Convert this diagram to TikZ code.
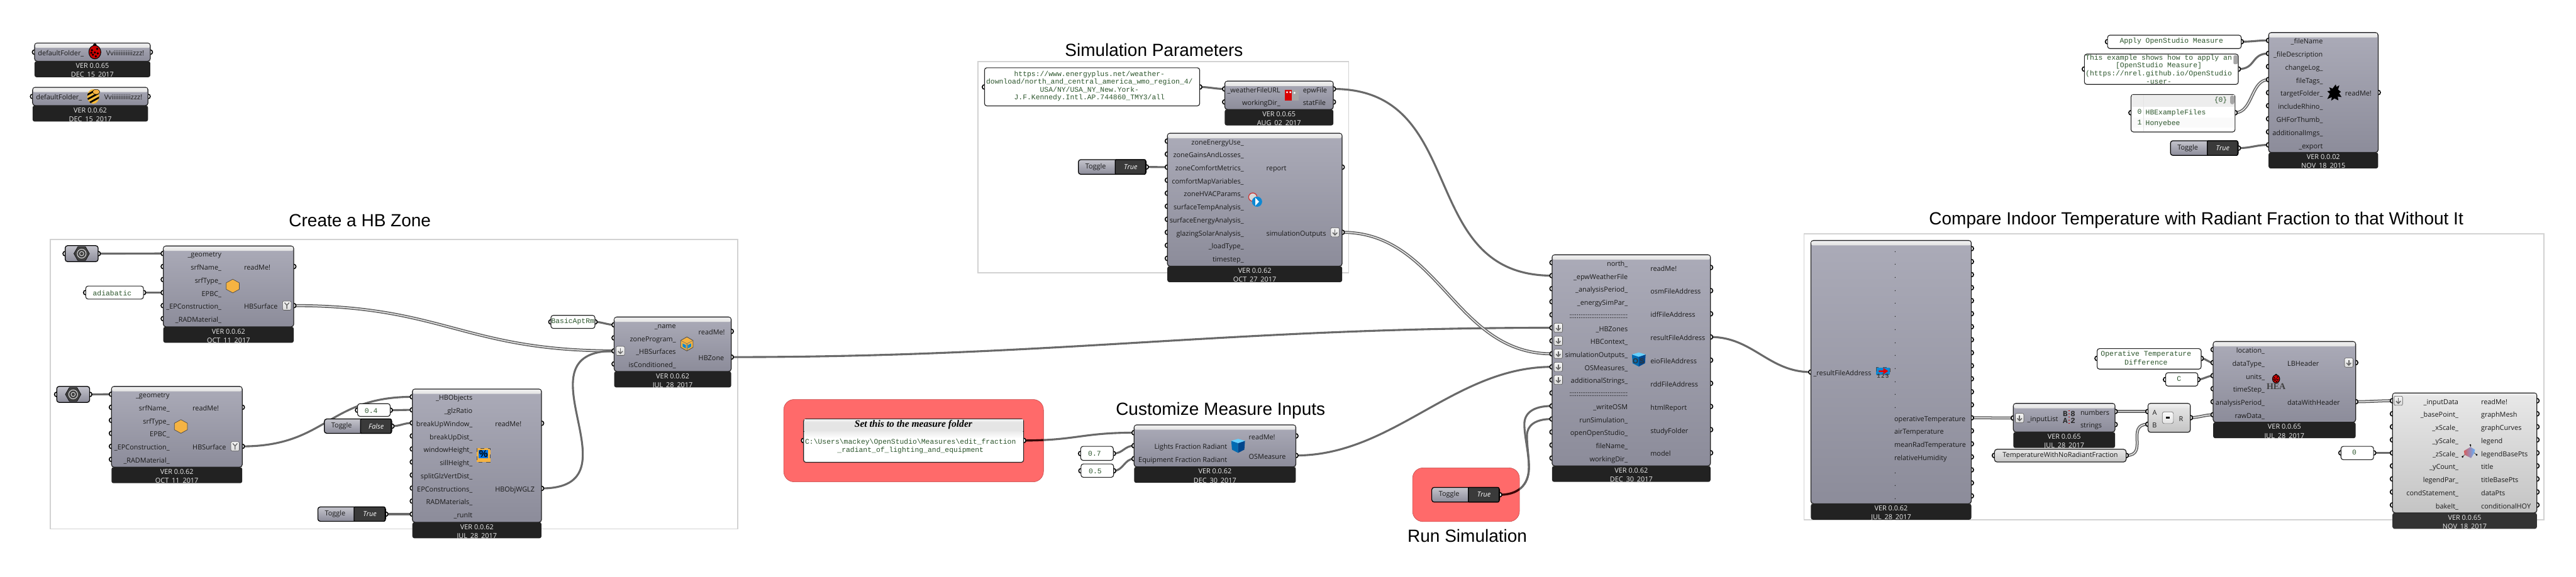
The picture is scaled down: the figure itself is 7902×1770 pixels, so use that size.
\documentclass[tikz,border=0pt]{standalone}
\usepackage{fontspec}
\setmainfont{Open Sans}
\newfontfamily\mono{Liberation Mono}
\newfontfamily\arial{Liberation Sans}
\newfontfamily\tms{Liberation Serif}
\usetikzlibrary{backgrounds}
\catcode`\_=12
\newcommand\fs[1]{\fontsize{\fpeval{#1*0.25}pt}{\fpeval{#1*0.30}pt}\selectfont}
\definecolor{wirec}{HTML}{696969}
\definecolor{foota}{HTML}{222222}
\definecolor{footb}{HTML}{333333}
\definecolor{grpc}{HTML}{D2D2D2}
\definecolor{redg}{HTML}{FF6A6A}
\definecolor{greenT}{HTML}{2C552C}
\definecolor{hbo}{HTML}{F5B342}
\pgfdeclarelayer{grp}\pgfdeclarelayer{wire}\pgfdeclarelayer{port}
\pgfsetlayers{grp,wire,port,main}
\tikzset{
  wire/.style={draw=wirec,line width=1.5pt,line cap=round},
  dwire/.style={draw=wirec,line width=0.85pt,double=white,double distance=0.6pt},
  portc/.style={draw=black,fill=white,line width=0.75pt},
  gcomp/.style={draw=foota,line width=0.6pt,rounded corners=2pt,top color=gtop,bottom color=gbot},
  lcomp/.style={draw=foota,line width=0.6pt,rounded corners=2pt,top color=ltop,bottom color=lbot},
  footg/.style={fill=foota,rounded corners=1.5pt},
  footl/.style={fill=footb,rounded corners=1.5pt},
  lbl/.style={inner sep=0pt,font=\fs{21},text=black!90},
  ftx/.style={inner sep=0pt,font=\fs{21},text=white!93!black},
  ttl/.style={inner sep=0pt,font=\arial\fs{54},text=black},
  mtx/.style={inner sep=0pt,font=\mono\fs{22},text=greenT},
  panelb/.style={draw=foota,line width=0.55pt,rounded corners=1.8pt,fill=white},
  grpbox/.style={draw=grpc,line width=0.75pt,fill=white},
  redbox/.style={draw=red!50!gray,line width=0.25pt,fill=redg,rounded corners=8pt},
  togb/.style={draw=black,line width=0.6pt,rounded corners=1.8pt,top color=gtopl,bottom color=gbot},
  togk/.style={draw=black,line width=0.6pt,fill=btnd,rounded corners=0.6pt},
}
\definecolor{gtop}{HTML}{ABABB8}
\definecolor{gbot}{HTML}{8C8C9A}
\definecolor{gtopl}{HTML}{C4C4CC}
\definecolor{ltop}{HTML}{E8E8E8}
\definecolor{lbot}{HTML}{C4C4C4}
\definecolor{btnd}{HTML}{3A3A3A}
\newcommand\bnode[7]{\node[#2,inner sep=0pt,outer sep=0pt,minimum width={(#5-#3)*0.25pt},minimum height={(#6-#4)*0.25pt}] (#1) at ({(#3+#5)/2},{(#4+#6)/2}) {#7};}
\newcommand\compg[7]{\compbase{gcomp}{footg}{#1}{#2}{#3}{#4}{#5}{#6}{#7}}
\newcommand\compl[7]{\compbase{lcomp}{footl}{#1}{#2}{#3}{#4}{#5}{#6}{#7}}
\newcommand\compbase[9]{%
  \def\cname{#3}\pgfmathsetmacro\cxa{#4}\pgfmathsetmacro\cya{#5}\pgfmathsetmacro\cxb{#6}\pgfmathsetmacro\cyb{#7}%
  \bnode{#3-f}{#2}{\cxa+11}{\cyb-10}{\cxb-11}{\cyb+59}{}%
  \bnode{#3}{#1}{\cxa}{\cya}{\cxb}{\cyb}{}%
  \shade[top color=white!88!gray,bottom color=white!78!gray,rounded corners=1pt] (\cxa+2,\cya+2) rectangle (\cxb-2,\cya+15);
  \node[ftx] (#3-v) at ({(\cxa+\cxb)/2},\cyb+14) {#8};
  \node[ftx] (#3-d) at ({(\cxa+\cxb)/2},\cyb+43) {#9};
}
\newcommand\pdot[1]{\begin{pgfonlayer}{port}\draw[portc] (#1) circle (1.75pt);\end{pgfonlayer}}
\newcommand\ins[6]{\foreach \lab [count=\c] in {#6}{\pgfmathsetmacro\yy{#4+(\c-1)*#5}\coordinate (#1-i\c) at (#2,\yy);\pdot{#2,\yy}\node[lbl,anchor=mid east] (#1-il\c) at (#3,\yy) {\lab};}}
\newcommand\outs[6]{\foreach \lab [count=\c] in {#6}{\pgfmathsetmacro\yy{#4+(\c-1)*#5}\coordinate (#1-o\c) at (#2,\yy);\pdot{#2,\yy}\node[lbl,anchor=mid west] (#1-ol\c) at (#3,\yy) {\lab};}}
\newcommand\panel[6]{\coordinate (#1-i1) at (#2,#6);\coordinate (#1-o1) at (#4,#6);\pdot{#2,#6}\pdot{#4,#6}\bnode{#1}{panelb}{#2}{#3}{#4}{#5}{}}
\newcommand\ptxt[4]{\node[mtx] (#1) at (#2,#3) {#4};}
\newcommand\toggle[7]{\pgfmathsetmacro\ty{(#3+#5)/2}\coordinate (#1-o1) at (#4,\ty);\pdot{#4,\ty}%
  \bnode{#1}{togb}{#2}{#3}{#4}{#5}{}%
  \bnode{#1-k}{togk}{#6}{#3+3}{#4-2}{#5-3}{}%
  \node[lbl] (#1-l) at (#2+53,\ty) {Toggle};
  \node[inner sep=0pt,font=\fs{21}\itshape,text=white] (#1-s) at ({(#6+#4)/2},\ty) {#7};}
\newcommand\paramhex[5]{\pgfmathsetmacro\ty{(#3+#5)/2}\coordinate (#1-i1) at (#2,\ty);\coordinate (#1-o1) at (#4,\ty);\pdot{#2,\ty}\pdot{#4,\ty}%
  \bnode{#1}{togb}{#2}{#3}{#4}{#5}{}%
  \begin{scope}[shift={({(#2+#4)/2},\ty)}]
   \fill[black!75,draw=black,line width=0.25pt] (-24,0)--(-12,-21)--(12,-21)--(24,0)--(12,21)--(-12,21)--cycle;
   \draw[white!75!gray,line width=0.5pt] (0,0) circle (3.4pt);\draw[white!75!gray,line width=0.45pt] (0,0) circle (1.6pt);
  \end{scope}}
\newcommand\flaticon[2]{\begin{scope}[shift={(#1,#2)}]
  \draw[draw=black!65,line width=0.3pt,top color=white!92!gray,bottom color=white!72!gray,rounded corners=1pt] (-13,-14) rectangle (13,14);
  \draw[black!60,line width=0.75pt] (0,-8)--(0,8);\draw[black!60,line width=0.75pt] (-7,1)--(0,8)--(7,1);
 \end{scope}}
\newcommand\grafticon[2]{\begin{scope}[shift={(#1,#2)}]
  \draw[draw=black!65,line width=0.3pt,top color=white!92!gray,bottom color=white!72!gray,rounded corners=1pt] (-13,-14) rectangle (13,14);
  \draw[black!60,line width=0.65pt] (0,10)--(0,-1)--(-7,-9);\draw[black!60,line width=0.65pt] (0,-1)--(7,-9);
 \end{scope}}
\newcommand\hexicon[2]{\draw[shift={(#1,#2)},fill=hbo,draw=black!70,line width=0.35pt] (0,-21)--(20,-10)--(20,10)--(0,21)--(-20,10)--(-20,-10)--cycle;}
\newcommand\cubeicon[2]{\begin{scope}[shift={(#1,#2)}]
  \draw[fill=hbo,draw=black!70,line width=0.4pt] (0,-21)--(19,-10)--(19,11)--(0,22)--(-19,11)--(-19,-10)--cycle;
  \fill[cyan!70!blue] (-13,-1)--(-3,4)--(-3,15)--(-13,9)--cycle;\fill[cyan!70!blue] (13,-1)--(3,4)--(3,15)--(13,9)--cycle;
  \draw[black!60,line width=0.25pt] (-19,-10)--(0,0)--(19,-10);\draw[black!60,line width=0.25pt] (0,0)--(0,22);
 \end{scope}}
\newcommand\bugicon[3]{\begin{scope}[shift={(#1,#2)},scale=#3]
  \fill[black] (0,-21) circle (1.4pt);
  \draw[fill=red!80!black,draw=black,line width=0.5pt] (0,0) ellipse (4.6pt and 5.2pt);
  \foreach \p in {(-9,-6),(7,-10),(9,4),(-6,8),(0,1),(3,13),(-11,2)}{\fill[black] \p circle (0.9pt);}
 \end{scope}}
\newcommand\osblock[2]{\begin{scope}[shift={(#1,#2)}]
 \fill[blue!40!cyan!70!black] (-21,-15)--(0,-8)--(0,22)--(-19,12)--cycle;
 \fill[blue!50!cyan!55!black] (21,-15)--(0,-8)--(0,22)--(19,12)--cycle;
 \fill[blue!30!cyan!60!white] (-21,-15)--(0,-21)--(21,-15)--(0,-8)--cycle;
\end{scope}}
\begin{document}
\begin{tikzpicture}[x=0.25pt,y=-0.25pt]
\useasboundingbox (0,0) rectangle (7902,1770);
\begin{pgfonlayer}{grp}
 \fill[white] (0,0) rectangle (7902,1770);
 \draw[grpbox] (154,735) rectangle (2263,1623);
 \draw[grpbox] (3000,189) rectangle (4137,837);
 \draw[grpbox] (5534,718) rectangle (7803,1595);
 \bnode{red1}{redbox}{2404}{1226}{3201}{1479}{}
 \bnode{red2}{redbox}{4333}{1436}{4661}{1601}{}
\end{pgfonlayer}
\node[ttl] (tHB) at (1104,676) {Create a HB Zone};
\node[ttl] (tSP) at (3540,153) {Simulation Parameters};
\node[ttl] (tCM) at (3744,1261) {Customize Measure Inputs};
\node[ttl] (tRS) at (4501,1644) {Run Simulation};
\node[ttl] (tCI) at (6737,676) {Compare Indoor Temperature with Radiant Fraction to that Without It};
\compg{cA}{106}{132}{461}{188}{VER 0.0.65}{DEC_15_2017}
\ins{cA}{106}{258}{160}{40}{defaultFolder_}
\outs{cA}{461}{325}{160}{40}{Vviiiiiiiiiiizzz!}
\bugicon{291}{160}{1}
\compg{cB}{100}{268}{454}{324}{VER 0.0.62}{DEC_15_2017}
\ins{cB}{100}{252}{296}{40}{defaultFolder_}
\outs{cB}{454}{319}{296}{40}{Vviiiiiiiiiiizzz!}
\begin{scope}[shift={(286,296)}]
 \begin{scope}
 \path[clip] (0,0) ellipse (4.6pt and 5.6pt);
 \fill[hbo!90!yellow] (-20,-24) rectangle (20,24);
 \foreach \d in {-18,-4,10}{\fill[black] (-22,\d+12)--(22,\d-12)--(22,\d-6)--(-22,\d+18)--cycle;}
 \end{scope}
 \fill[hbo,draw=black,line width=0.25pt] (9,-14) ellipse (2.8pt and 1.9pt);
\end{scope}
\paramhex{g1}{200}{754}{301}{803}
\compg{hs1}{501}{755}{901}{1003}{VER 0.0.62}{OCT_11_2017}
\ins{hs1}{501}{680}{778}{40}{_geometry,srfName_,srfType_,EPBC_,_EPConstruction_,_RADMaterial_}
\outs{hs1}{901}{748}{818}{120}{readMe!,HBSurface}
\hexicon{714}{878}\grafticon{880}{938}
\panel{pAd}{263}{878}{440}{918}{898}
\node[mtx,anchor=mid west] (pAd-t) at (284,897) {adiabatic};
\paramhex{g2}{174}{1186}{275}{1235}
\compg{hs2}{342}{1186}{743}{1434}{VER 0.0.62}{OCT_11_2017}
\ins{hs2}{342}{521}{1210}{40}{_geometry,srfName_,srfType_,EPBC_,_EPConstruction_,_RADMaterial_}
\outs{hs2}{743}{590}{1250}{120}{readMe!,HBSurface}
\hexicon{555}{1309}\grafticon{721}{1370}
\toggle{tF}{995}{1286}{1202}{1330}{1106}{False}
\panel{p04}{1097}{1239}{1197}{1278}{1259}
\node[mtx,anchor=mid west] (p04-t) at (1118,1257) {0.4};
\toggle{tT1}{975}{1556}{1183}{1600}{1086}{True}
\compg{hw}{1265}{1194}{1661}{1603}{VER 0.0.62}{JUL_28_2017}
\ins{hw}{1265}{1450}{1218}{40}{_HBObjects,_glzRatio,breakUpWindow_,breakUpDist_,windowHeight_,sillHeight_,splitGlzVertDist_,EPConstructions_,RADMaterials_,_runIt}
\outs{hw}{1661}{1518}{1299}{200}{readMe!,HBObjWGLZ}
\begin{scope}[shift={(1483,1397)}]
 \draw[fill=hbo,draw=black!70,dashed,line width=0.3pt] (-21,-21) rectangle (21,21);
 \fill[blue!50!cyan!90!black] (-15,-16) rectangle (15,9);
 \node[inner sep=0pt,font=\arial\bfseries\fs{30},text=black] (iPct) at (0,-3) {\%};
\end{scope}
\panel{pBa}{1690}{968}{1825}{1008}{988}
\ptxt{pBa-t}{1757}{987}{BasicAptRm}
\compg{hz}{1884}{973}{2243}{1140}{VER 0.0.62}{JUL_28_2017}
\ins{hz}{1884}{2074}{997}{40}{_name,zoneProgram_,_HBSurfaces,isConditioned_}
\outs{hz}{2243}{2142}{1017}{79}{readMe!,HBZone}
\cubeicon{2107}{1055}\flaticon{1903}{1077}
\panel{pMs}{2465}{1286}{3140}{1419}{1352}
\shade[top color=white!90!gray,bottom color=white!75!gray] (2467,1288) rectangle (3138,1300);
\fill[white!80!gray] (2467,1296) rectangle (3138,1323);
\draw[black,line width=0.5pt] (2465,1324) -- (3140,1324);
\shade[top color=white!85!gray,bottom color=white] (2467,1325) rectangle (3138,1345);
\node[inner sep=0pt,font=\tms\bfseries\itshape\fs{30},text=black] (pMs-h) at (2802,1304) {Set this to the measure folder};
\ptxt{pMs-a}{2793}{1358}{C:\textbackslash Users\textbackslash mackey\textbackslash OpenStudio\textbackslash Measures\textbackslash edit_fraction}
\ptxt{pMs-b}{2793}{1382}{_radiant_of_lighting_and_equipment}
\panel{p07}{3315}{1370}{3415}{1413}{1392}
\node[mtx,anchor=mid west] (p07-t) at (3337,1389) {0.7};
\panel{p05}{3316}{1424}{3416}{1465}{1445}
\node[mtx,anchor=mid west] (p05-t) at (3339,1442) {0.5};
\compg{ms}{3479}{1304}{3975}{1433}{VER 0.0.62}{DEC_30_2017}
\ins{ms}{3479}{3765}{1328}{40}{{},Lights Fraction Radiant,Equipment Fraction Radiant}
\outs{ms}{3975}{3830}{1338}{60}{readMe!,OSMeasure}
\osblock{3798}{1368}
\panel{pU}{3020}{208}{3680}{325}{267}
\ptxt{pU1}{3342}{228}{https://www.energyplus.net/weather-}
\ptxt{pU2}{3342}{252}{download/north_and_central_america_wmo_region_4/}
\ptxt{pU3}{3342}{276}{USA/NY/USA_NY_New.York-}
\ptxt{pU4}{3342}{300}{J.F.Kennedy.Intl.AP.744860_TMY3/all}
\compg{ep}{3757}{249}{4090}{336}{VER 0.0.65}{AUG_02_2017}
\ins{ep}{3757}{3928}{273}{40}{_weatherFileURL,workingDir_}
\outs{ep}{4090}{3996}{273}{40}{epwFile,statFile}
\begin{scope}[shift={(3962,292)}]
 \fill[red!85!black] (-21,-16) rectangle (1,16);\fill[gray!70] (1,-16) rectangle (21,16);
 \fill[white] (-14,-9) circle (0.8pt);\fill[white] (-4,-9) circle (0.8pt);\fill[white] (9,-7) circle (0.8pt);
\end{scope}
\toggle{tT2}{3308}{490}{3516}{535}{3421}{True}
\compg{sm}{3581}{409}{4117}{817}{VER 0.0.62}{OCT_27_2017}
\ins{sm}{3581}{3816}{433}{40}{zoneEnergyUse_,zoneGainsAndLosses_,zoneComfortMetrics_,comfortMapVariables_,zoneHVACParams_,surfaceTempAnalysis_,surfaceEnergyAnalysis_,glazingSolarAnalysis_,_loadType_,timestep_}
\outs{sm}{4117}{3884}{513}{200}{report,simulationOutputs}
\flaticon{4095}{713}
\begin{scope}[shift={(3851,613)}]
 \draw[fill=gray!30,draw=red!60!gray,line width=0.6pt] (-8,-8) circle (3.2pt);
 \fill[cyan!70!blue] (5,6) circle (3.9pt);
 \fill[white] (0,-6)--(11,6)--(0,18)--cycle;
\end{scope}
\compg{rn}{4761}{782}{5247}{1430}{VER 0.0.62}{DEC_30_2017}
\ins{rn}{4761}{4994}{806}{40}{north_,_epwWeatherFile,_analysisPeriod_,_energySimPar_,::::::::::::::::::::::::::::::::,_HBZones,HBContext_,simulationOutputs_,OSMeasures_,additionalStrings_,::::::::::::::::::::::::::::::::,_writeOSM,runSimulation_,openOpenStudio_,fileName_,workingDir_}
\outs{rn}{5247}{5062}{821}{71.1}{readMe!,osmFileAddress,idfFileAddress,resultFileAddress,eioFileAddress,rddFileAddress,htmlReport,studyFolder,model}
\foreach \yy in {1006,1046,1086,1126,1166}{\flaticon{4780}{\yy}}
\osblock{5027}{1103}
\node[inner sep=0pt,font=\arial\bfseries\fs{22},text=black!80] (iO) at (5017,1108) {O};
\node[inner sep=0pt,font=\arial\bfseries\fs{22},text=black!80] (iS) at (5037,1108) {S};
\toggle{tT3}{4392}{1496}{4600}{1541}{4504}{True}
\panel{pAp}{6465}{108}{6875}{149}{128}
\ptxt{pAp-t}{6661}{127}{Apply OpenStudio Measure}
\panel{pTh}{6394}{166}{6866}{259}{212}
\ptxt{pTh1}{6622}{178}{This example shows how to apply an}
\ptxt{pTh2}{6622}{202}{[OpenStudio Measure]}
\ptxt{pTh3}{6622}{227}{(https://nrel.github.io/OpenStudio}
\ptxt{pTh4}{6622}{251}{-user-}
\fill[gray!70,rounded corners=1pt] (6851,170) rectangle (6864,197);
\panel{pLs}{6537}{290}{6856}{405}{346}
\fill[white!86!gray] (6539,292) rectangle (6854,328);
\fill[white!96!gray] (6539,360) rectangle (6854,392);
\draw[white!80!gray,line width=0.3pt] (6576,292) -- (6576,403);
\fill[gray!70,rounded corners=1.5pt] (6841,293) rectangle (6854,320);
\ptxt{pLsH}{6812}{307}{\{0\}}
\ptxt{pLs0}{6563}{343}{0}
\node[mtx,anchor=mid west] (pLs0a) at (6581,342) {HBExampleFiles};
\ptxt{pLs1}{6563}{375}{1}
\node[mtx,anchor=mid west] (pLs1a) at (6581,374) {Honyebee};
\toggle{tT4}{6658}{432}{6866}{477}{6771}{True}
\compg{ex}{6959}{100}{7295}{468}{VER 0.0.02}{NOV_18_2015}
\ins{ex}{6959}{7126}{124}{40.1}{_fileName,_fileDescription,changeLog_,fileTags_,targetFolder_,includeRhino_,GHForThumb_,additionalImgs_,_export}
\outs{ex}{7295}{7193}{284}{40}{readMe!}
\fill[black,shift={(7161,284)}] (-6,-12)--(4,-25)--(6,-17)--(15,-22)--(11,-9)--(20,-2)--(14,2)--(22,14)--(10,12)--(12,24)--(0,18)--(-10,25)--(-8,14)--(-22,20)--(-14,4)--(-22,-4)--(-12,-6)--(-16,-16)--cycle;
\compg{rd}{5555}{738}{6047}{1546}{VER 0.0.62}{JUL_28_2017}
\ins{rd}{5555}{5741}{1142}{40}{_resultFileAddress}
\outs{rd}{6047}{5810}{763}{39.95}{.,.,.,.,.,.,.,.,.,.,.,.,.,operativeTemperature,airTemperature,meanRadTemperature,relativeHumidity,.,.,.}
\begin{scope}[shift={(5776,1140)}]
 \fill[cyan!70!blue,draw=black!70,dashed,line width=0.25pt] (-21,-12) rectangle (21,10);
 \fill[red!90!black] (-13,-3)--(1,-3)--(1,-11)--(16,-1)--(1,9)--(1,2)--(-13,2)--cycle;
 \node[inner sep=0pt,font=\arial\bfseries\fs{18},text=black!75] (i123) at (0,14) {1\,2\,3};
\end{scope}
\compg{il}{6176}{1238}{6488}{1326}{VER 0.0.65}{JUL_28_2017}
\ins{il}{6176}{6314}{1283}{40}{_inputList}
\outs{il}{6488}{6381}{1263}{40}{numbers,strings}
\flaticon{6195}{1283}
\begin{scope}[shift={(6347,1281)}]
 \node[inner sep=0pt,font=\mono\bfseries\fs{24},text=black!85] (iB) at (-12,-10) {B};
 \node[inner sep=0pt,font=\mono\bfseries\fs{24},text=black!85] (i8) at (12,-10) {8};
 \node[inner sep=0pt,font=\mono\bfseries\fs{24},text=black!85] (iA) at (-12,10) {A};
 \node[inner sep=0pt,font=\mono\bfseries\fs{24},text=black!85] (i2) at (12,10) {2};
 \draw[red!80!black,dotted,line width=0.5pt] (0,-22)--(0,22);
\end{scope}
\coordinate (gT-o1) at (6522,1398);\pdot{6118,1398}\pdot{6522,1398}
\bnode{gT}{lcomp}{6118}{1379}{6522}{1418}{}
\node[lbl] (gT-t) at (6320,1398) {TemperatureWithNoRadiantFraction};
\bnode{mn}{lcomp}{6589}{1238}{6719}{1327}{}
\shade[top color=white!88!gray,bottom color=white!80!gray,rounded corners=1pt] (6591,1240) rectangle (6717,1253);
\ins{mn}{6589}{6617}{1263}{39}{A,B}
\outs{mn}{6719}{6683}{1282}{40}{R}
\draw[draw=black!55,line width=0.35pt,top color=white!96!gray,bottom color=white!78!gray,rounded corners=1.5pt] (6633,1264) rectangle (6667,1300);
\fill[black] (6644,1279) rectangle (6656,1285);
\panel{pOp}{6433}{1070}{6752}{1133}{1100}
\ptxt{pOp1}{6583}{1088}{Operative Temperature}
\ptxt{pOp2}{6583}{1112}{Difference}
\panel{pC}{6643}{1144}{6742}{1185}{1165}
\ptxt{pC-t}{6684}{1163}{C}
\compg{hd}{6789}{1048}{7226}{1296}{VER 0.0.65}{JUL_28_2017}
\ins{hd}{6789}{6948}{1073}{40}{location_,dataType_,units_,timeStep_,analysisPeriod_,rawData_}
\outs{hd}{7226}{7016}{1113}{120}{LBHeader,dataWithHeader}
\flaticon{7205}{1113}
\bugicon{6982}{1163}{0.6}
\node[inner sep=0pt,font=\tms\bfseries\fs{27},text=black!75] (iHEA) at (6982,1186) {HEA};
\compl{pl}{7339}{1206}{7782}{1574}{VER 0.0.65}{NOV_18_2017}
\ins{pl}{7339}{7542}{1230}{40}{_inputData,_basePoint_,_xScale_,_yScale_,_zScale_,_yCount_,legendPar_,condStatement_,bakeIt_}
\outs{pl}{7782}{7610}{1230}{40}{readMe!,graphMesh,graphCurves,legend,legendBasePts,title,titleBasePts,dataPts,conditionalHOY}
\flaticon{7357}{1230}
\begin{scope}[shift={(7576,1388)}]
 \shade[left color=red!60!gray!80,right color=blue!50!cyan!60] (-18,-4)--(2,-16)--(16,-8)--(14,2)--(4,18)--(-16,8)--cycle;
 \draw[black!80,line width=0.3pt] (2,-16)--(2,-21);\draw[black!80,line width=0.3pt] (-16,8)--(-22,14);\draw[black!80,line width=0.3pt] (14,2)--(21,8);
 \fill[black] (2,-22) circle (0.7pt);\fill[black] (-22,14) circle (0.7pt);\fill[black] (21,8) circle (0.7pt);
\end{scope}
\panel{p0}{7181}{1370}{7281}{1411}{1390}
\ptxt{p0-t}{7222}{1388}{0}
\begin{pgfonlayer}{wire}
 \newcommand\wire[5][wire]{\draw[#1] (#2) .. controls +(#3,0) and +(-#4,0) .. (#5);}
 \wire{g1-o1}{50}{50}{hs1-i1}
 \wire{pAd-o1}{20}{20}{hs1-i4}
 \wire[dwire]{hs1-o2}{460}{460}{hz-i3}
 \wire{g2-o1}{20}{20}{hs2-i1}
 \wire{hs2-o2}{260}{260}{hw-i1}
 \wire{p04-o1}{20}{20}{hw-i2}
 \wire{tF-o1}{25}{25}{hw-i3}
 \wire{tT1-o1}{20}{20}{hw-i10}
 \wire{hw-o2}{310}{310}{hz-i3}
 \wire{pBa-o1}{20}{20}{hz-i1}
 \wire{hz-o2}{1000}{1000}{rn-i6}
 \wire{pMs-o1}{160}{160}{ms-i1}
 \wire{p07-o1}{30}{30}{ms-i2}
 \wire{p05-o1}{30}{30}{ms-i3}
 \wire{ms-o2}{300}{300}{rn-i9}
 \wire{pU-o1}{30}{30}{ep-i1}
 \wire{ep-o1}{420}{420}{rn-i2}
 \wire[dwire]{sm-o2}{300}{300}{rn-i8}
 \wire{tT2-o1}{20}{20}{sm-i3}
 \coordinate (kA) at (4690,1435);\coordinate (kB) at (4676,1302);\coordinate (kC) at (4684,1337);
 \draw[wire] (tT3-o1) .. controls (4655,1519) and (4690,1490) .. (kA) .. controls (4690,1390) and (4676,1340) .. (kB) .. controls (4676,1270) and (4700,1246) .. (rn-i12);
 \draw[wire] (tT3-o1) .. controls (4655,1519) and (4690,1490) .. (kA) .. controls (4690,1400) and (4684,1370) .. (kC) .. controls (4684,1305) and (4710,1286) .. (rn-i13);
 \begin{scope}
  \clip[rounded corners=8pt] (2404,1226) rectangle (3201,1479);
  \draw[wire,draw=black!50!red!45!black] (pMs-o1) .. controls +(160,0) and +(-160,0) .. (ms-i1);
 \end{scope}
 \begin{scope}
  \clip[rounded corners=8pt] (4333,1436) rectangle (4661,1601);
  \draw[wire,draw=black!75!red] (tT3-o1) .. controls (4655,1519) and (4690,1490) .. (kA);
 \end{scope}
 \wire{rn-o4}{130}{130}{rd-i1}
 \wire[dwire]{rd-o14}{50}{50}{il-i1}
 \wire[dwire]{il-o1}{40}{40}{mn-i1}
 \wire[dwire]{gT-o1}{70}{70}{mn-i2}
 \wire[dwire]{mn-o1}{25}{25}{hd-i6}
 \wire{pOp-o1}{15}{15}{hd-i2}
 \wire{pC-o1}{15}{15}{hd-i3}
 \wire[dwire]{hd-o2}{40}{40}{pl-i1}
 \wire{p0-o1}{20}{20}{pl-i5}
 \wire{pAp-o1}{35}{35}{ex-i1}
 \wire{pTh-o1}{55}{55}{ex-i2}
 \wire[dwire]{pLs-o1}{55}{55}{ex-i4}
 \wire{tT4-o1}{40}{40}{ex-i9}
\end{pgfonlayer}
\end{tikzpicture}
\end{document}
